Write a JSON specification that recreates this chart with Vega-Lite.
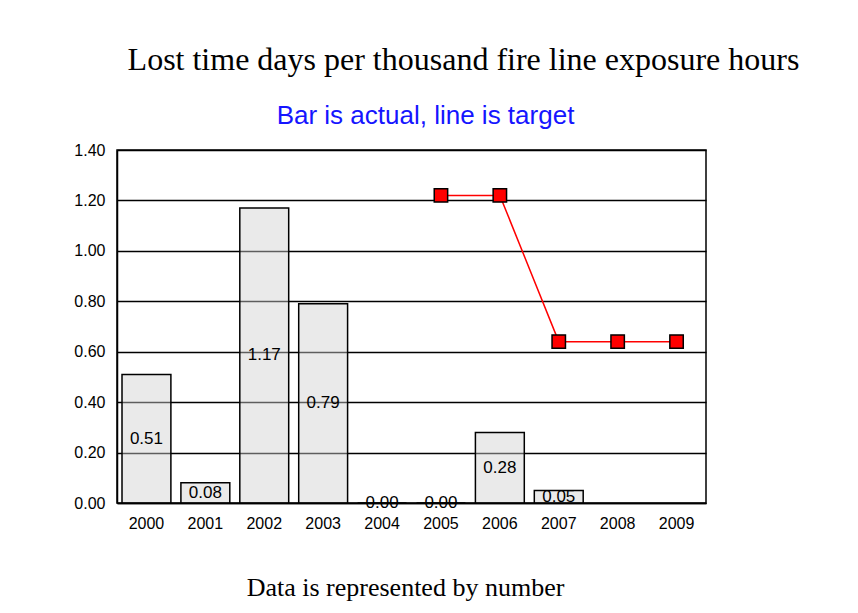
{
  "$schema": "https://vega.github.io/schema/vega-lite/v6.json",
  "width": 589,
  "height": 353,
  "autosize": {"type": "none"},
  "padding": {"left": 117, "top": 150, "right": 152, "bottom": 110},
  "background": "white",
  "title": {
    "text": "Lost time days per thousand fire line exposure hours",
    "font": "Liberation Serif",
    "fontSize": 32,
    "fontWeight": "normal",
    "color": "black",
    "anchor": "middle",
    "frame": "group",
    "baseline": "alphabetic",
    "offset": 0,
    "dx": 52
  },
  "data": {
    "values": [
      {"year": "2000", "actual": 0.51, "target": null},
      {"year": "2001", "actual": 0.08, "target": null},
      {"year": "2002", "actual": 1.17, "target": null},
      {"year": "2003", "actual": 0.79, "target": null},
      {"year": "2004", "actual": 0.0, "target": null},
      {"year": "2005", "actual": 0.0, "target": 1.22},
      {"year": "2006", "actual": 0.28, "target": 1.22},
      {"year": "2007", "actual": 0.05, "target": 0.64},
      {"year": "2008", "actual": null, "target": 0.64},
      {"year": "2009", "actual": null, "target": 0.64}
    ]
  },
  "encoding": {
    "x": {
      "field": "year",
      "type": "nominal",
      "sort": null,
      "scale": {"paddingInner": 0.17, "paddingOuter": 0.085},
      "axis": {
        "labelAngle": 0,
        "labelFont": "Liberation Sans",
        "labelFontSize": 16,
        "labelColor": "black",
        "labelPadding": 12,
        "ticks": false,
        "domainColor": "black",
        "domainWidth": 1.5,
        "title": "Data is represented by number",
        "titleFont": "Liberation Serif",
        "titleFontSize": 26,
        "titleFontWeight": "normal",
        "titleColor": "black",
        "titleAnchor": "start",
        "titleAlign": "center",
        "titleBaseline": "alphabetic",
        "titleX": 288,
        "titleY": 92
      }
    }
  },
  "layer": [
    {
      "transform": [{"filter": "datum.actual != null"}],
      "mark": {"type": "bar", "fill": "#d0d0d0", "fillOpacity": 0.45, "stroke": "black", "strokeWidth": 1.5},
      "encoding": {
        "y": {
          "field": "actual",
          "type": "quantitative",
          "scale": {"domain": [0, 1.4], "nice": false},
          "axis": {
            "values": [0, 0.2, 0.4, 0.6, 0.8, 1.0, 1.2, 1.4],
            "format": ".2f",
            "labelFont": "Liberation Sans",
            "labelFontSize": 16,
            "labelColor": "black",
            "labelPadding": 12,
            "ticks": false,
            "grid": true,
            "gridColor": "black",
            "gridWidth": 1.5,
            "gridOpacity": 1,
            "domainColor": "black",
            "domainWidth": 1.5,
            "title": "Bar is actual, line is target",
            "titleFont": "Liberation Sans",
            "titleFontSize": 26,
            "titleFontWeight": "normal",
            "titleColor": "#1515ff",
            "titleAngle": 0,
            "titleAlign": "center",
            "titleBaseline": "alphabetic",
            "titleX": 308,
            "titleY": -27
          }
        }
      }
    },
    {
      "transform": [
        {"filter": "datum.actual != null"},
        {"calculate": "datum.actual / 2", "as": "mid"}
      ],
      "mark": {"type": "text", "font": "Liberation Sans", "fontSize": 17, "color": "black", "baseline": "middle", "align": "center"},
      "encoding": {
        "y": {"field": "mid", "type": "quantitative"},
        "text": {"field": "actual", "type": "quantitative", "format": ".2f"}
      }
    },
    {
      "transform": [{"filter": "datum.target != null"}],
      "mark": {
        "type": "line",
        "color": "red",
        "strokeWidth": 1.5,
        "point": {"shape": "square", "filled": true, "fill": "red", "stroke": "black", "strokeWidth": 1.5, "size": 180, "opacity": 1}
      },
      "encoding": {
        "y": {"field": "target", "type": "quantitative"}
      }
    }
  ],
  "config": {
    "view": {"stroke": "black", "strokeWidth": 1.5}
  }
}
